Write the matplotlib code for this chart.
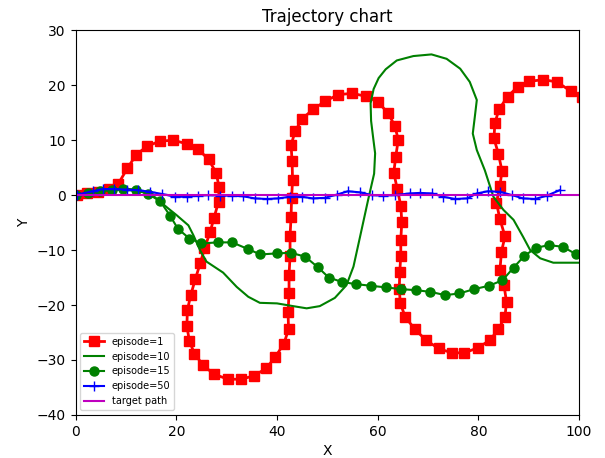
import matplotlib
matplotlib.use("Agg")
import matplotlib.pyplot as plt

# episode 1 (red squares)
ep1_x = [0.2, 2.3, 4.5, 6.6, 8.5, 10.3, 12.0, 14.2, 16.7, 19.4, 22.2, 24.4, 26.4, 27.9, 28.5,
         28.4, 27.5, 26.7, 25.6, 24.8, 23.8, 22.9, 22.2, 22.1, 22.6, 23.6, 25.4, 27.5, 30.3,
         32.8, 35.4, 37.9, 39.7, 41.4, 42.3, 42.2, 42.4, 42.4, 42.6, 42.6, 42.8, 42.9, 43.1,
         43.0, 42.8, 43.6, 45.0, 47.2, 49.6, 52.2, 55.0, 57.6, 60.0, 62.1, 63.4, 64.1, 63.6,
         63.2, 63.9, 64.6, 64.8, 64.6, 64.6, 64.4, 64.3, 64.5, 65.5, 67.4, 69.6, 72.1, 74.7,
         77.2, 79.9, 82.3, 84.0, 85.3, 85.6, 85.1, 84.3, 84.6, 85.3, 84.3, 83.6, 84.3, 84.7,
         84.0, 83.1, 83.3, 84.1, 85.8, 87.8, 90.1, 92.9, 95.6, 98.4, 100.5]
ep1_y = [0.0, 0.3, 0.6, 1.1, 2.1, 4.9, 7.3, 8.9, 9.8, 10.0, 9.3, 8.3, 6.5, 4.1, 1.5,
         -1.2, -4.1, -6.8, -9.7, -12.3, -15.2, -18.1, -20.9, -23.9, -26.5, -28.9, -31.0, -32.6, -33.5,
         -33.5, -32.9, -31.5, -29.4, -27.0, -24.4, -21.3, -17.9, -14.5, -11.1, -7.4, -4.0, -0.5, 2.7,
         6.2, 9.1, 11.6, 13.9, 15.6, 17.1, 18.3, 18.5, 18.0, 17.0, 14.9, 12.6, 10.1, 7.0,
         4.1, 1.1, -1.9, -4.9, -8.1, -11.0, -13.9, -17.0, -19.7, -22.2, -24.4, -26.4, -27.9, -28.7,
         -28.7, -27.8, -26.4, -24.4, -22.1, -19.4, -16.4, -13.6, -10.3, -7.5, -4.4, -1.4, 1.7, 4.4,
         7.5, 10.3, 13.1, 15.6, 17.9, 19.7, 20.7, 21.0, 20.6, 18.9, 17.8]

# episode 10 (green line)
ep10_x = [0, 3, 6, 9, 12, 15, 16.8, 18.5, 20.0, 22.4, 23.4, 24.7, 26.0, 29.3, 32.0, 34.3, 36.6,
          40.0, 43.2, 45.9, 48.5, 51.5, 53.8, 55.2, 56.5, 58.1, 59.3, 59.5, 59.1, 58.7, 58.6, 59.2,
          60.2, 61.6, 63.8, 67.1, 70.7, 73.7, 76.4, 78.3, 79.7, 79.3, 78.9, 79.7, 81.3, 83.0, 85.0,
          87.0, 88.9, 90.3, 92.3, 94.9, 100]
ep10_y = [0, 0.3, 0.8, 1.0, 0.8, 0.2, -1.2, -2.5, -3.6, -5.5, -7.3, -10, -12.1, -14.1, -16.7, -18.5, -19.6,
          -19.7, -20.2, -20.6, -20.2, -18.7, -16.4, -13, -7.6, -0.9, 3.9, 7.6, 10.5, 13.5, 16.7, 19.3,
          21.3, 22.9, 24.5, 25.3, 25.6, 24.8, 23.0, 20.6, 17.3, 14.2, 11.2, 8.2, 4.5, -0.3, -2.7,
          -4.5, -7.6, -10, -11.5, -12.3, -12.3]

# episode 15 (green circles)
ep15_x = [0, 2.4, 4.8, 7.2, 9.5, 12.0, 14.4, 16.8, 18.8, 20.3, 22.6, 25.0, 28.2, 31.1, 34.2, 36.7,
          40.0, 42.8, 45.6, 48.1, 50.3, 52.9, 55.7, 58.7, 61.7, 64.6, 67.6, 70.5, 73.4, 76.2,
          79.2, 82.1, 84.8, 87.0, 89.1, 91.4, 94.0, 96.8, 99.5]
ep15_y = [0, 0.3, 0.7, 1.0, 1.2, 1.0, 0.2, -1.1, -3.8, -6.1, -7.9, -8.8, -8.6, -8.6, -9.8, -10.8,
          -10.6, -10.5, -11.2, -13.1, -15.0, -15.8, -16.2, -16.5, -16.8, -17.1, -17.3, -17.6, -18.2, -17.9,
          -17.1, -16.5, -15.5, -13.2, -11.1, -9.6, -9.1, -9.4, -10.8]

# episode 50 (blue plus)
ep50_x = [0.3, 3.4, 5.4, 7.6, 10.2, 12.4, 14.8, 17.2, 19.7, 22.1, 24.3, 26.3, 28.7, 31.1, 33.2,
          35.6, 38.0, 40.2, 42.6, 45.0, 47.1, 49.5, 51.9, 54.1, 56.5, 58.9, 61.1, 63.4, 66.4,
          68.4, 70.8, 73.0, 75.4, 77.8, 79.7, 81.9, 84.3, 86.7, 88.9, 91.3, 93.6, 96.2]
ep50_y = [0.1, 0.7, 1.1, 1.1, 1.0, 0.9, 0.6, 0.2, -0.3, -0.3, -0.1, 0.0, -0.1, -0.1, -0.2,
          -0.6, -0.7, -0.6, -0.3, -0.3, -0.6, -0.5, 0.1, 0.7, 0.5, 0.0, -0.1, 0.0, 0.3,
          0.4, 0.3, -0.3, -0.7, -0.6, 0.3, 0.7, 0.6, 0.0, -0.6, -0.7, -0.1, 0.9]

target_x = [0, 100]
target_y = [0, 0]

fig = plt.figure(figsize=(6.05, 4.58), dpi=100)
ax = fig.add_axes([0.125, 0.094, 0.832, 0.84])

ax.plot(ep1_x, ep1_y, color='r', marker='s', linewidth=2, markersize=6.5, label='episode=1')
ax.plot(ep10_x, ep10_y, color='g', linewidth=1.5, label='episode=10')
ax.plot(ep15_x, ep15_y, color='g', marker='o', linewidth=1.5, markersize=6.5, label='episode=15')
ax.plot(ep50_x, ep50_y, color='b', marker='+', linewidth=1.5, markersize=7, label='episode=50')
ax.plot(target_x, target_y, color='m', linewidth=1.5, label='target path')

ax.set_xlim(0, 100)
ax.set_ylim(-40, 30)
ax.set_title("Trajectory chart")
ax.set_xlabel("X")
ax.set_ylabel("Y")
ax.legend(loc='lower left', fontsize=7)

fig.savefig("out.png", dpi=100)
